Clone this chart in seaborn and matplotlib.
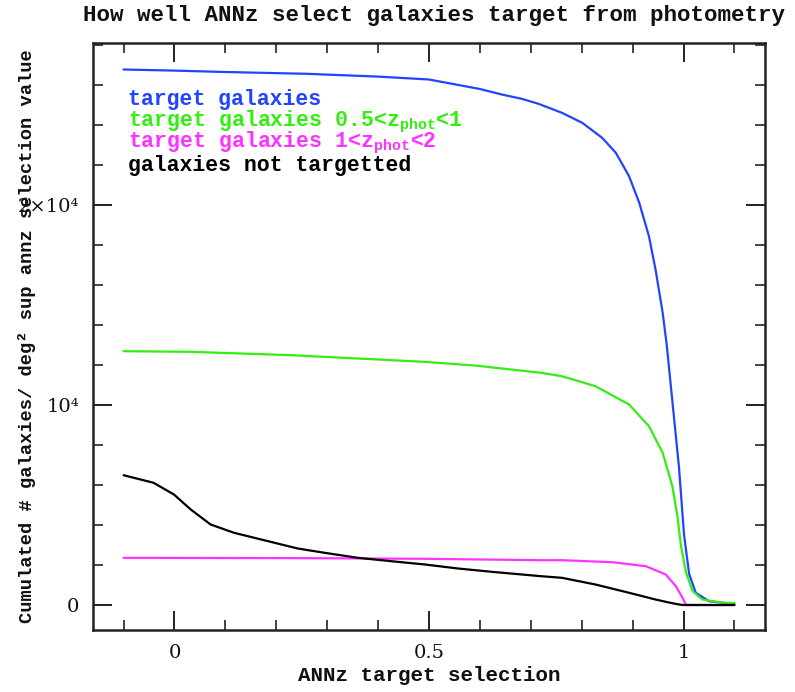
import numpy as np
import pandas as pd
import matplotlib
matplotlib.use("Agg")
import matplotlib.pyplot as plt
import seaborn as sns
from matplotlib.ticker import FixedLocator, FixedFormatter, MultipleLocator

sns.set_theme(style="ticks")
FAM = ["Liberation Mono", "DejaVu Sans Mono"]
plt.rcParams["font.family"] = FAM
plt.rcParams["font.weight"] = "bold"
plt.rcParams["mathtext.fontset"] = "custom"
plt.rcParams["mathtext.rm"] = "Liberation Mono:bold"
plt.rcParams["mathtext.bf"] = "Liberation Mono:bold"

# ---- data ----
blue_x = [-0.1, 0.0, 0.1, 0.26, 0.4, 0.5, 0.6, 0.643, 0.682, 0.715, 0.761, 0.801, 0.84, 0.867,
          0.893, 0.913, 0.932, 0.945, 0.959, 0.967, 0.978, 0.991, 1.001, 1.011, 1.024, 1.05,
          1.077, 1.1]
blue_y = [26775, 26720, 26650, 26560, 26420, 26275, 25800, 25525, 25310, 25060, 24610, 24110,
          23360, 22610, 21440, 20110, 18440, 16775, 14610, 13000, 10200, 6900, 3500, 1550,
          610, 190, 110, 75]

green_x = [-0.1, 0.03, 0.23, 0.36, 0.49, 0.59, 0.72, 0.761, 0.827, 0.893, 0.932, 0.959, 0.978,
           0.988, 0.995, 1.005, 1.018, 1.037, 1.077, 1.1]
green_y = [12690, 12660, 12490, 12325, 12160, 11975, 11610, 11440, 10940, 10025, 8940, 7610,
           5940, 4440, 2940, 1610, 690, 275, 110, 100]

magenta_x = [-0.1, 0.23, 0.49, 0.72, 0.761, 0.86, 0.926, 0.965, 0.985, 0.998, 1.005, 1.05, 1.1]
magenta_y = [2360, 2345, 2310, 2240, 2240, 2140, 1940, 1525, 940, 360, 0, 0, 0]

black_x = [-0.1, -0.041, -0.001, 0.032, 0.071, 0.117, 0.176, 0.242, 0.295, 0.36, 0.426, 0.492,
           0.557, 0.623, 0.72, 0.761, 0.827, 0.893, 0.945, 0.972, 0.991, 1.0, 1.05, 1.1]
black_y = [6490, 6110, 5525, 4775, 4025, 3610, 3240, 2825, 2610, 2360, 2190, 2025,
           1825, 1660, 1440, 1360, 1025, 610, 275, 120, 25, 0, 0, 0]

series_labels = ["target galaxies",
                 r"target galaxies 0.5<z$_{\mathbf{phot}}$<1",
                 r"target galaxies 1<z$_{\mathbf{phot}}$<2",
                 "galaxies not targetted"]
series_colors = ["#2244ff", "#33ee11", "#ff33ff", "#000000"]

x_ticks = [0, 0.5, 1]
x_ticklabels = ["0", "0.5", "1"]
y_ticks = [0, 10000, 20000]
y_ticklabels = ["0", "10⁴", "2×10⁴"]

title = "How well ANNz select galaxies target from photometry"
xlabel = "ANNz target selection"
ylabel = "Cumulated # galaxies/ deg² sup annz selection value"

# ---- figure ----
fig = plt.figure(figsize=(7.95, 6.92), dpi=100)
ax = fig.add_axes([93 / 795, 1 - 630 / 692, (765 - 93) / 795, (630 - 43) / 692])

all_x = [blue_x, green_x, magenta_x, black_x]
all_y = [blue_y, green_y, magenta_y, black_y]
for xs, ys, c in zip(all_x, all_y, series_colors):
    sns.lineplot(x=xs, y=ys, color=c, linewidth=1.6, ax=ax, sort=False, estimator=None)

ax.set_xlim(-0.16, 1.16)
ax.set_ylim(-1250, 28100)

ax.xaxis.set_major_locator(FixedLocator(x_ticks))
ax.xaxis.set_major_formatter(FixedFormatter(x_ticklabels))
ax.xaxis.set_minor_locator(MultipleLocator(0.1))
ax.yaxis.set_major_locator(FixedLocator(y_ticks))
ax.yaxis.set_major_formatter(FixedFormatter(y_ticklabels))
ax.yaxis.set_minor_locator(MultipleLocator(2000))

ax.tick_params(which="both", direction="in", top=True, right=True, colors="#222222",
               labelsize=14, labelcolor="#111111")
ax.tick_params(which="major", length=14, width=1.4, pad=10)
ax.tick_params(which="minor", length=7, width=1.2)
for s in ax.spines.values():
    s.set_linewidth(1.8)
    s.set_color("#222222")
for lab in ax.get_xticklabels() + ax.get_yticklabels():
    lab.set_fontfamily(["DejaVu Serif"])
    lab.set_fontweight("normal")

ax.set_xlabel(xlabel, fontsize=15, color="#111111", fontweight="bold")
ax.xaxis.set_label_coords(0.5, -0.062)
ax.set_ylabel(ylabel, fontsize=13.5, color="#111111", fontweight="bold")
ax.yaxis.set_label_coords(-0.085, 0.5)
fig.text(0.5 * (78 + 790) / 795, 1 - 15 / 692, title, ha="center", va="center",
         fontsize=16.2, color="#111111", fontweight="bold")

# text legend
ys_leg = [100, 122, 143, 165]
for lab, c, yy in zip(series_labels, series_colors, ys_leg):
    fig.text(128 / 795, 1 - yy / 692, lab, color=c, fontsize=15.5, ha="left", va="center",
             fontweight="bold")

fig.savefig("out.png", dpi=100)
